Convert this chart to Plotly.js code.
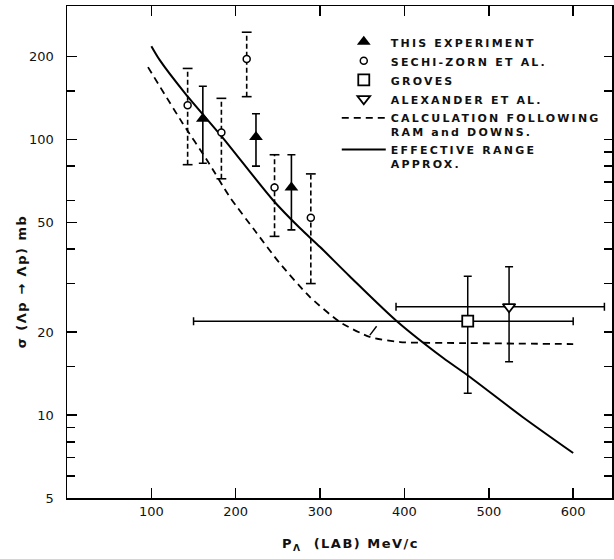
<!DOCTYPE html>
<html><head><meta charset="utf-8">
<script src="https://cdn.plot.ly/plotly-3.0.1.min.js"></script>
<style>
html,body{margin:0;padding:0;background:#fff;}
#chart{width:614px;height:559px;}
.legendtext{letter-spacing:2.2px;}
.annotation-text{letter-spacing:1.5px;}
</style></head><body><div id="chart"></div>
<script>
// ---- tick values ----
const xTicks = [100, 200, 300, 400, 500, 600];
const yMajor = [5, 10, 20, 50, 100, 200];
const yMajorText = ['5', '10', '20', '50', '100', '200'];
const yMinorLeft = [6, 7, 8, 9, 15, 30, 40, 60, 80, 150];
const yRight = [6, 7, 8, 9, 10, 15, 20, 30, 40, 50, 60, 70, 80, 90, 100, 150, 200];

// ---- THIS EXPERIMENT ----
const thisX = [161, 224, 266];
const thisY = [119, 102, 67];
const thisHi = [156, 124, 88];
const thisLo = [82, 80, 47];

// ---- SECHI-ZORN ET AL. ----
const szX = [143, 183, 213, 246, 289];
const szY = [133, 106, 196, 67, 52];
const szHi = [181, 141, 245, 88, 75];
const szLo = [81, 72, 143, 44.5, 30];

// ---- GROVES ----
const grX = [475];
const grY = [21.9];
const grHi = [31.9];
const grLo = [12.0];
const grXLo = [150];
const grXHi = [600];

// ---- ALEXANDER ET AL. ----
const alX = [524];
const alY = [24.7];
const alHi = [34.5];
const alLo = [15.6];
const alXLo = [390];
const alXHi = [637];

// ---- CALCULATION FOLLOWING RAM and DOWNS (dashed) ----
const calcX = [96, 137, 166, 193, 225, 252, 288, 324, 359, 395, 466, 600];
const calcY = [183, 114.6, 84.1, 61.8, 45.7, 35.6, 26.8, 21.7, 19.2, 18.4, 18.25, 18.1];

// ---- EFFECTIVE RANGE APPROX. (solid) ----
const effX = [100, 110, 140, 184, 244, 276, 300, 335, 391, 446, 474, 540, 600];
const effY = [218, 194, 147, 102, 60.3, 47.7, 40.7, 31.9, 21.9, 16.1, 14.0, 9.84, 7.28];

// small stroke on dashed curve
const markX = [359, 367];
const markY = [19.5, 21.0];

const K = 'black';
function diff(a, b) { return a.map((v, i) => v - b[i]); }

// dashed vertical error bars built from the arrays
const szBarX = [], szBarY = [];
szX.forEach((x, i) => { szBarX.push(x, x, null); szBarY.push(szLo[i], szHi[i], null); });

const traces = [
  { x: calcX, y: calcY, mode: 'lines', name: 'CALCULATION FOLLOWING<br>RAM and DOWNS.',
    line: { color: K, width: 1.8, dash: '7px,5px', shape: 'spline', smoothing: 0.6 }, legendrank: 5 },
  { x: effX, y: effY, mode: 'lines', name: 'EFFECTIVE RANGE<br>APPROX.',
    line: { color: K, width: 2, shape: 'spline', smoothing: 0.8 }, legendrank: 6 },
  { x: markX, y: markY, mode: 'lines', yaxis: 'y2', showlegend: false, hoverinfo: 'skip',
    line: { color: K, width: 1.4 } },
  { x: szBarX, y: szBarY, mode: 'lines', showlegend: false, hoverinfo: 'skip',
    line: { color: K, width: 1.6, dash: '5px,3px' } },
  { x: szX.concat(szX), y: szHi.concat(szLo), mode: 'markers', showlegend: false, hoverinfo: 'skip',
    marker: { symbol: 'line-ew', size: 7, line: { color: K, width: 1.6 } } },
  { x: thisX, y: thisY, mode: 'markers', name: 'THIS EXPERIMENT', legendrank: 1,
    marker: { symbol: 'triangle-up', size: 12, color: K },
    error_y: { type: 'data', symmetric: false, array: diff(thisHi, thisY), arrayminus: diff(thisY, thisLo),
      color: K, thickness: 1.6, width: 4 } },
  { x: szX, y: szY, mode: 'markers', name: 'SECHI-ZORN ET AL.', legendrank: 2,
    marker: { symbol: 'circle', size: 7, color: 'white', line: { color: K, width: 1.5 } } },
  { x: grX, y: grY, mode: 'markers', name: 'GROVES', legendrank: 3,
    marker: { symbol: 'square', size: 11, color: 'white', line: { color: K, width: 1.8 } },
    error_y: { type: 'data', symmetric: false, array: diff(grHi, grY), arrayminus: diff(grY, grLo),
      color: K, thickness: 1.5, width: 4 },
    error_x: { type: 'data', symmetric: false, array: diff(grXHi, grX), arrayminus: diff(grX, grXLo),
      color: K, thickness: 1.5, width: 4 } },
  { x: alX, y: alY, mode: 'markers', name: 'ALEXANDER ET AL.', legendrank: 4,
    marker: { symbol: 'triangle-down', size: 11, color: 'white', line: { color: K, width: 1.8 } },
    error_y: { type: 'data', symmetric: false, array: diff(alHi, alY), arrayminus: diff(alY, alLo),
      color: K, thickness: 1.5, width: 4 },
    error_x: { type: 'data', symmetric: false, array: diff(alXHi, alX), arrayminus: diff(alX, alXLo),
      color: K, thickness: 1.5, width: 4 } }
];

const yRange = [Math.log10(5), Math.log10(305)];
const tickFont = { family: 'DejaVu Sans', size: 13, color: '#111' };

const layout = {
  width: 614, height: 559,
  margin: { l: 67, r: 2, t: 6, b: 61 },
  paper_bgcolor: 'white', plot_bgcolor: 'white',
  showlegend: true,
  legend: { x: 0.495, y: 0.955, xanchor: 'left', yanchor: 'top', bgcolor: 'rgba(0,0,0,0)',
    itemwidth: 44, valign: 'top', tracegroupgap: 0,
    font: { family: 'DejaVu Sans', size: 11, color: '#111', weight: 'bold' } },
  xaxis: { range: [0, 646], tickmode: 'array', tickvals: xTicks, ticks: 'inside', ticklen: 10,
    tickwidth: 1.5, tickcolor: K, showline: true, linecolor: K, linewidth: 1.5, mirror: 'ticks',
    showgrid: false, zeroline: false, tickfont: tickFont, ticklabelstandoff: 1 },
  yaxis: { type: 'log', range: yRange, tickmode: 'array', tickvals: yMajor, ticktext: yMajorText,
    ticks: 'inside', ticklen: 10, tickwidth: 1.5, tickcolor: K,
    minor: { tickmode: 'array', tickvals: yMinorLeft, ticks: 'inside', ticklen: 8, tickwidth: 1.5, tickcolor: K },
    showline: true, linecolor: K, linewidth: 1.5, mirror: true, showgrid: false, zeroline: false,
    tickfont: tickFont, ticklabelstandoff: 9 },
  yaxis2: { type: 'log', range: yRange, overlaying: 'y', side: 'right', tickmode: 'array', tickvals: yRight,
    ticks: 'inside', ticklen: 8, tickwidth: 1.5, tickcolor: K, showticklabels: false,
    showline: false, showgrid: false, zeroline: false },
  annotations: [
    { xref: 'paper', yref: 'paper', x: 0.52, y: -0.095, xanchor: 'center', yanchor: 'middle', showarrow: false,
      text: 'P<sub>Λ</sub>  (LAB) MeV/c', font: { family: 'DejaVu Sans', size: 13, color: '#111', weight: 'bold' } },
    { xref: 'paper', yref: 'paper', x: -0.083, y: 0.44, xanchor: 'center', yanchor: 'middle', showarrow: false,
      textangle: -90, text: 'σ (Λp → Λp) mb', font: { family: 'DejaVu Sans', size: 13, color: '#111', weight: 'bold' } }
  ]
};

Plotly.newPlot('chart', traces, layout, { displayModeBar: false, staticPlot: true });
</script></body></html>
